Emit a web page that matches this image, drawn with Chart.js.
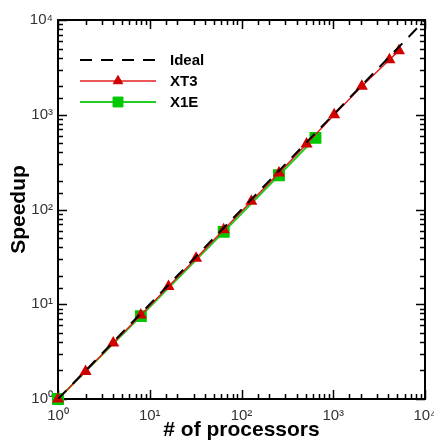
<!DOCTYPE html>
<html>
<head>
<meta charset="utf-8">
<script src="https://cdn.jsdelivr.net/npm/chart.js@4/dist/chart.umd.min.js"></script>
<style>
  html, body { margin: 0; padding: 0; background: #fff; }
  #wrap { width: 434px; height: 441px; }
</style>
</head>
<body>
<div id="wrap"><canvas id="myChart" width="434" height="441"></canvas></div>
<script>
// data
var idealProcs = [1, 10000];
var idealSpeedup = [1, 10000];
var xt3Procs = [1, 2, 4, 8, 16, 32, 64, 128, 256, 512, 1024, 2048, 4096, 5200];
var xt3Speedup = [1, 1.95, 3.9, 7.7, 15.4, 30.5, 61, 122, 243, 490, 1000, 2000, 3800, 4750];
var x1eProcs = [1, 8, 64, 256, 640];
var x1eSpeedup = [1, 7.5, 58, 230, 570];
var sup = ['\u2070', '\u00b9', '\u00b2', '\u00b3', '\u2074'];

function pts(xs, ys) {
    var out = [];
    for (var i = 0; i < xs.length; i++) out.push({ x: xs[i], y: ys[i] });
    return out;
}

function powLabel(v) {
    var e = Math.log10(v);
    if (Math.abs(e - Math.round(e)) < 1e-9) return '10' + sup[Math.round(e)];
    return '';
}

// frame + inward ticks on all four sides
var frameTicks = {
    id: 'frameTicks',
    beforeDatasetsDraw: function (chart) {
        var c = chart.ctx, a = chart.chartArea;
        var xs = chart.scales.x, ys = chart.scales.y;
        c.save();
        c.strokeStyle = '#000';
        c.lineWidth = 1.5;
        c.beginPath();
        xs.ticks.forEach(function (t) {
            var px = Math.round(xs.getPixelForValue(t.value)) + 0.5;
            var len = powLabel(t.value) ? 9 : 5;
            c.moveTo(px, a.bottom); c.lineTo(px, a.bottom - len);
            c.moveTo(px, a.top); c.lineTo(px, a.top + len);
        });
        ys.ticks.forEach(function (t) {
            var py = Math.round(ys.getPixelForValue(t.value)) + 0.5;
            var len = powLabel(t.value) ? 9 : 5;
            c.moveTo(a.left, py); c.lineTo(a.left + len, py);
            c.moveTo(a.right, py); c.lineTo(a.right - len, py);
        });
        c.stroke();
        c.lineWidth = 2;
        c.strokeRect(a.left, a.top, a.right - a.left, a.bottom - a.top);
        c.restore();
    }
};

// legend inside the plot, upper left
var insideLegend = {
    id: 'insideLegend',
    afterDraw: function (chart) {
        var c = chart.ctx;
        var x0 = 80, x1 = 156, tx = 170;
        var rows = [60, 81, 102];
        c.save();
        c.font = 'bold 15px "Liberation Sans", Arial, sans-serif';
        c.textBaseline = 'middle';
        c.fillStyle = '#000';
        chart.data.datasets.forEach(function (ds, i) {
            var y = rows[i];
            c.strokeStyle = ds.borderColor;
            c.lineWidth = ds.borderWidth;
            c.setLineDash(ds.borderDash || []);
            c.beginPath(); c.moveTo(x0, y); c.lineTo(x1, y); c.stroke();
            c.setLineDash([]);
            if (ds.pointRadius > 0) {
                c.fillStyle = ds.pointBackgroundColor;
                c.strokeStyle = ds.pointBorderColor;
                c.lineWidth = 1;
                Chart.helpers.drawPoint(c, {
                    pointStyle: ds.pointStyle, radius: ds.pointRadius,
                    rotation: 0, borderWidth: 1
                }, (x0 + x1) / 2, y);
            }
            c.fillStyle = '#000';
            c.fillText(ds.label, tx, y + 1);
        });
        c.restore();
    }
};

var ctx = document.getElementById('myChart').getContext('2d');
var chart = new Chart(ctx, {
    type: 'line',
    data: {
        datasets: [{
            label: 'Ideal',
            data: pts(idealProcs, idealSpeedup),
            borderColor: '#000',
            borderWidth: 2,
            borderDash: [12, 9],
            pointRadius: 0,
            order: 0
        }, {
            label: 'XT3',
            data: pts(xt3Procs, xt3Speedup),
            borderColor: '#e02020',
            borderWidth: 1.5,
            pointStyle: 'triangle',
            pointRadius: 5.5,
            pointBackgroundColor: '#d00000',
            pointBorderColor: '#d00000',
            clip: false,
            order: 1
        }, {
            label: 'X1E',
            data: pts(x1eProcs, x1eSpeedup),
            borderColor: '#20d020',
            borderWidth: 2,
            pointStyle: 'rect',
            pointRadius: 7,
            pointBackgroundColor: '#00c800',
            pointBorderColor: '#00c800',
            clip: false,
            order: 2
        }]
    },
    options: {
        responsive: false,
        animation: false,
        layout: { padding: { left: 0, right: 6, top: 20, bottom: 0 } },
        plugins: { legend: { display: false }, tooltip: { enabled: false } },
        scales: {
            x: {
                type: 'logarithmic',
                min: 1,
                max: 10000,
                grid: { display: false, drawTicks: false },
                border: { display: false },
                ticks: {
                    autoSkip: false,
                    maxRotation: 0,
                    padding: 8,
                    color: '#333',
                    font: { family: '"Liberation Sans", Arial, sans-serif', size: 15 },
                    callback: powLabel
                },
                title: {
                    display: true,
                    text: '# of processors',
                    color: '#000',
                    padding: 0,
                    font: { family: '"Liberation Sans", Arial, sans-serif', size: 21, weight: 'bold', lineHeight: 1 }
                },
                afterFit: function (s) { s.height = 42; s.paddingLeft = 0; s.paddingRight = 0; }
            },
            y: {
                type: 'logarithmic',
                min: 1,
                max: 10000,
                grid: { display: false, drawTicks: false },
                border: { display: false },
                ticks: {
                    autoSkip: false,
                    padding: 5,
                    color: '#333',
                    font: { family: '"Liberation Sans", Arial, sans-serif', size: 15 },
                    callback: powLabel
                },
                title: {
                    display: true,
                    text: 'Speedup',
                    color: '#000',
                    padding: { top: 9, bottom: 0 },
                    font: { family: '"Liberation Sans", Arial, sans-serif', size: 21, weight: 'bold', lineHeight: 1 }
                },
                afterFit: function (s) { s.width = 58; s.paddingTop = 0; s.paddingBottom = 0; }
            }
        }
    },
    plugins: [frameTicks, insideLegend]
});
</script>
</body>
</html>
